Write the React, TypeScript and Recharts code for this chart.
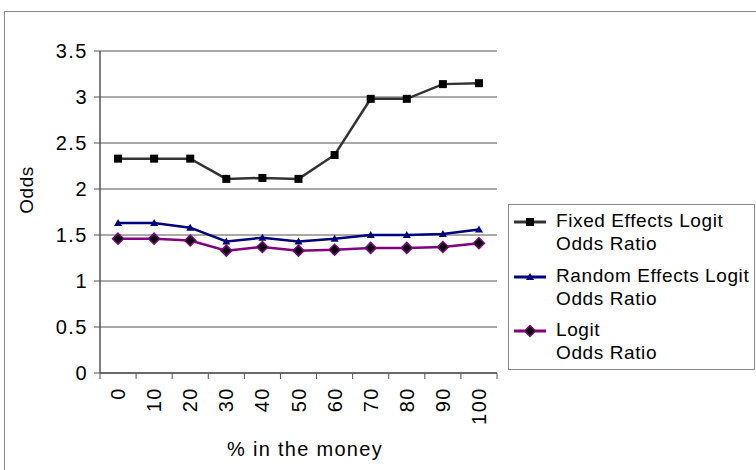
import React from "react";
import { LineChart, Line, XAxis, YAxis, CartesianGrid } from "recharts";

const categories = ["0", "10", "20", "30", "40", "50", "60", "70", "80", "90", "100"];
const fixedOdds = [2.33, 2.33, 2.33, 2.11, 2.12, 2.11, 2.37, 2.98, 2.98, 3.14, 3.15];
const randomOdds = [1.63, 1.63, 1.58, 1.43, 1.47, 1.43, 1.46, 1.5, 1.5, 1.51, 1.56];
const logitOdds = [1.46, 1.46, 1.44, 1.33, 1.37, 1.33, 1.34, 1.36, 1.36, 1.37, 1.41];
const yTicks = [0, 0.5, 1, 1.5, 2, 2.5, 3, 3.5];

const FONT = '"Liberation Sans", Arial, sans-serif';

const chartData = categories.map((c, i) => ({
  pct: c,
  fixed: fixedOdds[i],
  random: randomOdds[i],
  logit: logitOdds[i],
}));

type Marker = "square" | "triangle" | "diamond";

const SERIES: { key: string; lines: string[]; color: string; marker: Marker }[] = [
  { key: "fixed", lines: ["Fixed Effects Logit", "Odds Ratio"], color: "#333333", marker: "square" },
  { key: "random", lines: ["Random Effects Logit", "Odds Ratio"], color: "#000080", marker: "triangle" },
  { key: "logit", lines: ["Logit", "Odds Ratio"], color: "#800080", marker: "diamond" },
];

function MarkerShape({ cx, cy, marker, color }: { cx: number; cy: number; marker: Marker; color: string }) {
  if (marker === "square") {
    return <rect x={cx - 4} y={cy - 4} width={8} height={8} fill="#000" />;
  }
  if (marker === "triangle") {
    return <path d={`M${cx},${cy - 4} L${cx + 4},${cy + 3} L${cx - 4},${cy + 3} Z`} fill={color} />;
  }
  return (
    <path
      d={`M${cx},${cy - 5.5} L${cx + 5.5},${cy} L${cx},${cy + 5.5} L${cx - 5.5},${cy} Z`}
      fill="#000"
      stroke={color}
      strokeWidth={1.5}
    />
  );
}

const makeDot = (marker: Marker, color: string) => (props: any) => {
  const { cx, cy, index } = props;
  if (cx == null || cy == null) return <g key={index} />;
  return (
    <g key={`${marker}-${index}`}>
      <MarkerShape cx={cx} cy={cy} marker={marker} color={color} />
    </g>
  );
};

const lastCategory = categories[categories.length - 1];

function XTick(props: any) {
  const { x, y, payload, width } = props;
  // tick marks sit between categories, half a band away from the label
  const half = payload.offset || (width ? width / categories.length / 2 : 18);
  return (
    <g>
      <line x1={x - half} y1={y} x2={x - half} y2={y + 6} stroke="#555" />
      {payload.value === lastCategory && (
        <line x1={x + half} y1={y} x2={x + half} y2={y + 6} stroke="#555" />
      )}
      <text
        x={x}
        y={y + 14}
        transform={`rotate(-90 ${x} ${y + 14})`}
        textAnchor="end"
        dominantBaseline="central"
        fontSize={20}
        letterSpacing={1.5}
        fill="#000"
        fontFamily={FONT}
      >
        {payload.value}
      </text>
    </g>
  );
}

function ChartLegend() {
  return (
    <div
      style={{
        position: "absolute",
        left: 508,
        top: 204,
        width: 245,
        height: 164,
        border: "1px solid #888",
        background: "#fff",
        fontFamily: FONT,
        fontSize: 19,
        letterSpacing: 0.6,
        color: "#000",
        boxSizing: "content-box",
      }}
    >
      {SERIES.map((s, i) => (
        <div
          key={s.key}
          style={{ position: "absolute", left: 5, top: 4 + i * 54.5, display: "flex" }}
        >
          <svg width={36} height={23} style={{ flex: "none", marginRight: 6 }}>
            <line x1={0} y1={13} x2={32} y2={13} stroke={s.color} strokeWidth={3} />
            <MarkerShape cx={16} cy={13} marker={s.marker} color={s.color} />
          </svg>
          <div style={{ lineHeight: "23px", whiteSpace: "nowrap" }}>
            {s.lines.map((l) => (
              <div key={l}>{l}</div>
            ))}
          </div>
        </div>
      ))}
    </div>
  );
}

export default function App() {
  return (
    <div
      style={{
        position: "absolute",
        left: 0,
        top: 0,
        width: 756,
        height: 470,
        background: "#fff",
        overflow: "hidden",
      }}
    >
      <div
        style={{
          position: "absolute",
          left: 4,
          top: 11,
          width: 760,
          height: 470,
          border: "1px solid #888",
        }}
      />
      <LineChart
        width={756}
        height={470}
        data={chartData}
        margin={{ top: 51, right: 259, bottom: 0, left: 0 }}
        style={{ position: "absolute", left: 0, top: 0, fontFamily: FONT }}
      >
        <CartesianGrid vertical={false} stroke="#555" />
        <XAxis
          dataKey="pct"
          scale="band"
          height={97}
          axisLine={{ stroke: "#555", strokeWidth: 1.5 }}
          tickLine={false}
          tickSize={0}
          tickMargin={0}
          interval={0}
          tick={<XTick />}
          label={{
            content: () => (
              <text
                x={305}
                y={449}
                textAnchor="middle"
                dominantBaseline="central"
                fontSize={20}
                letterSpacing={1.3}
                fill="#000"
                fontFamily={FONT}
              >
                % in the money
              </text>
            ),
          }}
        />
        <XAxis
          xAxisId="top"
          dataKey="pct"
          scale="band"
          orientation="top"
          height={0}
          tick={false}
          tickLine={false}
          axisLine={{ stroke: "#999" }}
        />
        <YAxis
          width={100}
          domain={[0, 3.5]}
          ticks={yTicks}
          interval={0}
          axisLine={{ stroke: "#555", strokeWidth: 1.5 }}
          tickLine={{ stroke: "#555" }}
          tickSize={6}
          tickMargin={6}
          tick={{ fontSize: 20, fill: "#000", letterSpacing: 1.5, fontFamily: FONT }}
          label={{
            content: () => (
              <text
                x={26}
                y={190}
                transform="rotate(-90 26 190)"
                textAnchor="middle"
                dominantBaseline="central"
                fontSize={19}
                letterSpacing={0.5}
                fill="#000"
                fontFamily={FONT}
              >
                Odds
              </text>
            ),
          }}
        />
        <YAxis
          yAxisId="right"
          orientation="right"
          width={0}
          domain={[0, 3.5]}
          tick={false}
          tickLine={false}
          axisLine={{ stroke: "#999" }}
        />
        {SERIES.map((s) => (
          <Line
            key={s.key}
            type="linear"
            dataKey={s.key}
            stroke={s.color}
            strokeWidth={2.5}
            dot={makeDot(s.marker, s.color)}
            activeDot={false}
            isAnimationActive={false}
          />
        ))}
      </LineChart>
      <ChartLegend />
    </div>
  );
}
